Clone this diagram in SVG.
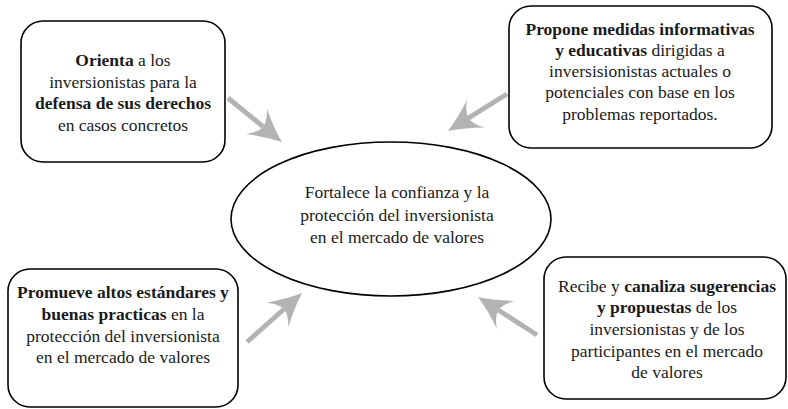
<svg xmlns="http://www.w3.org/2000/svg" width="788" height="409" viewBox="0 0 788 409">
<style>
.box{fill:#fff;stroke:#000;stroke-width:1.6}
text{font-family:'Liberation Serif','DejaVu Serif',serif;font-size:17.5px;fill:#1a1a1a;text-anchor:middle}
.b{font-weight:bold}
.arr{stroke:#b3b3b3;stroke-width:5;fill:none}
</style>
<defs>
<marker id="head" markerUnits="userSpaceOnUse" markerWidth="60" markerHeight="60" refX="0" refY="0" orient="auto" overflow="visible">
<path d="M24,0 Q8,-6 -9,-16.5 Q-1,-8 0,0 Q-1,8 -9,16.5 Q8,6 24,0 Z" fill="#b3b3b3"/>
</marker>
</defs>
<rect width="788" height="409" fill="#fff"/>
<g id="connectors">
<line class="arr" x1="228" y1="98" x2="263.4" y2="126.9" marker-end="url(#head)"/>
<line class="arr" x1="507" y1="94" x2="468.3" y2="118.2" marker-end="url(#head)"/>
<line class="arr" x1="247" y1="342" x2="284.1" y2="309" marker-end="url(#head)"/>
<line class="arr" x1="537" y1="335" x2="498.2" y2="310" marker-end="url(#head)"/>
</g>
<g id="center" font-family="Liberation Serif, serif">
<ellipse class="box" cx="391" cy="219" rx="160" ry="77"/>
<text x="397" y="198">Fortalece la confianza y la</text>
<text x="397" y="221">protección del inversionista</text>
<text x="397" y="243">en el mercado de valores</text>
</g>
<g id="orienta">
<rect class="box" x="21" y="21" width="204" height="141" rx="22"/>
<text x="123" y="66"><tspan class="b">Orienta</tspan> a los</text>
<text x="123" y="88">inversionistas para la</text>
<text class="b" x="123" y="109">defensa de sus derechos</text>
<text x="123" y="131">en casos concretos</text>
</g>
<g id="propone">
<rect class="box" x="509" y="6" width="263" height="142" rx="22"/>
<text x="640" y="35"><tspan class="b">Propone medidas informativas</tspan></text>
<text x="640" y="56"><tspan class="b">y educativas</tspan> dirigidas a</text>
<text x="640" y="77">inversisionistas actuales o</text>
<text x="640" y="98">potenciales con base en los</text>
<text x="640" y="120">problemas reportados.</text>
</g>
<g id="promueve">
<rect class="box" x="8" y="269" width="230" height="138" rx="22"/>
<text x="123" y="298"><tspan class="b">Promueve altos estándares y</tspan></text>
<text x="123" y="320"><tspan class="b">buenas practicas</tspan> en la</text>
<text x="123" y="342">protección del inversionista</text>
<text x="123" y="363">en el mercado de valores</text>
</g>
<g id="recibe">
<rect class="box" x="544" y="257" width="242" height="142" rx="22"/>
<text x="667" y="292">Recibe y <tspan class="b">canaliza sugerencias</tspan></text>
<text x="667" y="313"><tspan class="b">y propuestas</tspan> de los</text>
<text x="667" y="335">inversionistas y de los</text>
<text x="667" y="357">participantes en el mercado</text>
<text x="667" y="378">de valores</text>
</g>
</svg>
